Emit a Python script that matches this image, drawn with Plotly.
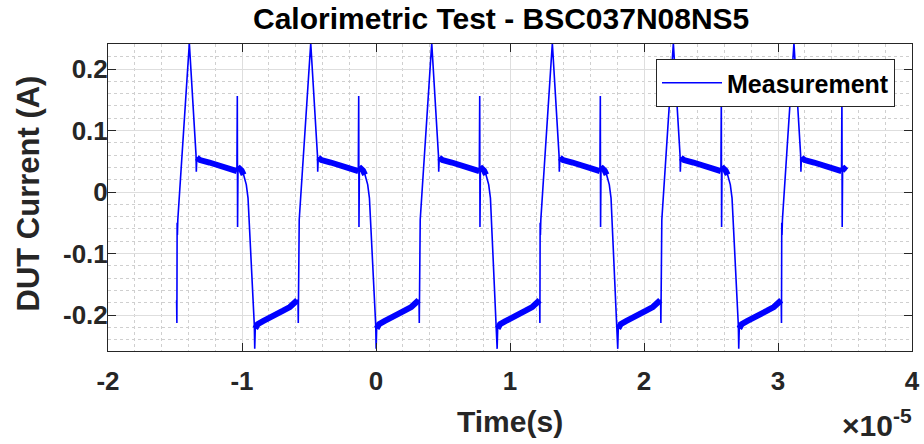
import plotly.graph_objects as go

# ---- data (times in microseconds, current in A) ----
peak_times_us = [-13.93, -4.87, 4.16, 13.16, 22.19, 31.19]
end_time_us = 35.13

# one switching period, time relative to the current peak
cycle_rel_us = [-0.95, -0.93, -0.91, -0.89, -0.86, 0.0, 0.40, 0.50, 0.52, 0.56,
                0.8, 1.5, 2.5, 3.2, 3.55, 3.58, 3.60, 3.63, 3.75, 3.9,
                4.05, 4.25, 4.38, 4.85, 4.88, 4.92, 5.1, 5.5, 6.0, 6.5,
                7.0, 7.5, 7.9, 8.05]
cycle_current_a = [-0.176, -0.213, -0.05, -0.07, -0.045, 0.242, 0.11, 0.06, 0.033, 0.056,
                   0.052, 0.048, 0.042, 0.037, 0.034, 0.156, -0.057, 0.036, 0.038, 0.035,
                   0.028, 0.012, -0.01, -0.217, -0.255, -0.222, -0.215, -0.21, -0.205, -0.199,
                   -0.193, -0.187, -0.181, -0.176]
# 1 where the measured trace is a thick noisy band
cycle_noisy = [1, 0, 0, 0, 0, 0, 0, 0, 0, 1,
               1, 1, 1, 1, 1, 0, 0, 1, 1, 1,
               1, 0, 0, 0, 0, 1, 1, 1, 1, 1,
               1, 1, 1, 1]

x_tick_vals = [-2e-5, -1e-5, 0, 1e-5, 2e-5, 3e-5, 4e-5]
x_tick_labels = ["-2", "-1", "0", "1", "2", "3", "4"]
y_tick_vals = [-0.2, -0.1, 0, 0.1, 0.2]
y_tick_labels = ["-0.2", "-0.1", "0", "0.1", "0.2"]

title_text = "Calorimetric Test - BSC037N08NS5"
x_label = "Time(s)"
y_label = "DUT Current (A)"
series_name = "Measurement"

# ---- assemble the series from the read cycle ----
t_s, cur = [], []
band_t, band_c = [], []
for tp in peak_times_us:
    for rel, val, noisy in zip(cycle_rel_us, cycle_current_a, cycle_noisy):
        tt = tp + rel
        if tt > end_time_us:
            break
        t_s.append(tt * 1e-6)
        cur.append(val)
        if noisy:
            band_t.append(tt * 1e-6)
            band_c.append(val)
        elif band_t and band_t[-1] is not None:
            band_t.append(None)
            band_c.append(None)
    band_t.append(None)
    band_c.append(None)

BLUE = "#0000FF"
DARK = "#262626"
FONT = "Liberation Sans, Arial, sans-serif"

fig = go.Figure()
fig.add_trace(go.Scatter(x=band_t, y=band_c, mode="lines",
                         line=dict(color=BLUE, width=6), showlegend=False,
                         hoverinfo="skip", connectgaps=False))
fig.add_trace(go.Scatter(x=t_s, y=cur, mode="lines", name=series_name,
                         line=dict(color=BLUE, width=1.6)))

axis_common = dict(
    showline=True, linecolor=DARK, linewidth=1, mirror="ticks",
    ticks="inside", ticklen=8, tickcolor=DARK, tickwidth=1,
    showgrid=True, gridcolor="#dedede", gridwidth=1, zeroline=False,
    automargin=False,
    tickfont=dict(family=FONT, size=26, color=DARK, weight="bold"),
)

fig.update_xaxes(range=[-2e-5, 4e-5], tickmode="array", tickvals=x_tick_vals,
                 ticktext=x_tick_labels, ticklabelstandoff=7,
                 minor=dict(dtick=0.2e-5, tick0=0, showgrid=True, griddash="dot",
                            gridcolor="#cfcfcf", gridwidth=1, ticks=""),
                 **axis_common)
fig.update_yaxes(range=[-0.2585, 0.2407], tickmode="array", tickvals=y_tick_vals,
                 ticktext=y_tick_labels, ticklabelstandoff=-6,
                 minor=dict(dtick=0.02, tick0=0, showgrid=True, griddash="dot",
                            gridcolor="#cfcfcf", gridwidth=1, ticks=""),
                 **axis_common)

L, R, T, B = 108, 12, 44, 93
W, H = 924, 444
pw, ph = W - L - R, H - T - B

def px(xp):
    return (xp - L) / pw

def py(yp):
    return (H - B - yp) / ph

fig.update_layout(
    width=W, height=H, margin=dict(l=L, r=R, t=T, b=B, autoexpand=False),
    paper_bgcolor="white", plot_bgcolor="white",
    font=dict(family=FONT, color=DARK),
    showlegend=True,
    legend=dict(x=px(895), y=py(59), xanchor="right", yanchor="top",
                bgcolor="white", bordercolor=DARK, borderwidth=1,
                font=dict(family=FONT, size=25, color="black", weight="bold"),
                itemwidth=60, tracegroupgap=0),
    annotations=[
        dict(text=title_text, xref="paper", yref="paper", x=px(501), y=py(19),
             xanchor="center", yanchor="middle", showarrow=False,
             font=dict(family=FONT, size=30, color="black", weight="bold")),
        dict(text=x_label, xref="paper", yref="paper", x=px(510), y=py(421),
             xanchor="center", yanchor="middle", showarrow=False,
             font=dict(family=FONT, size=30, color=DARK, weight="bold")),
        dict(text=y_label, xref="paper", yref="paper", x=px(27.5), y=py(194),
             xanchor="center", yanchor="middle", showarrow=False, textangle=-90,
             font=dict(family=FONT, size=31, color=DARK, weight="bold")),
        dict(text="×10<sup>-5</sup>", xref="paper", yref="paper", x=px(914), y=py(423),
             xanchor="right", yanchor="middle", showarrow=False,
             font=dict(family=FONT, size=30, color=DARK, weight="bold")),
    ],
)

fig.write_html("out.html", config={"displayModeBar": False},
               post_script="document.body.style.margin='0px';")
